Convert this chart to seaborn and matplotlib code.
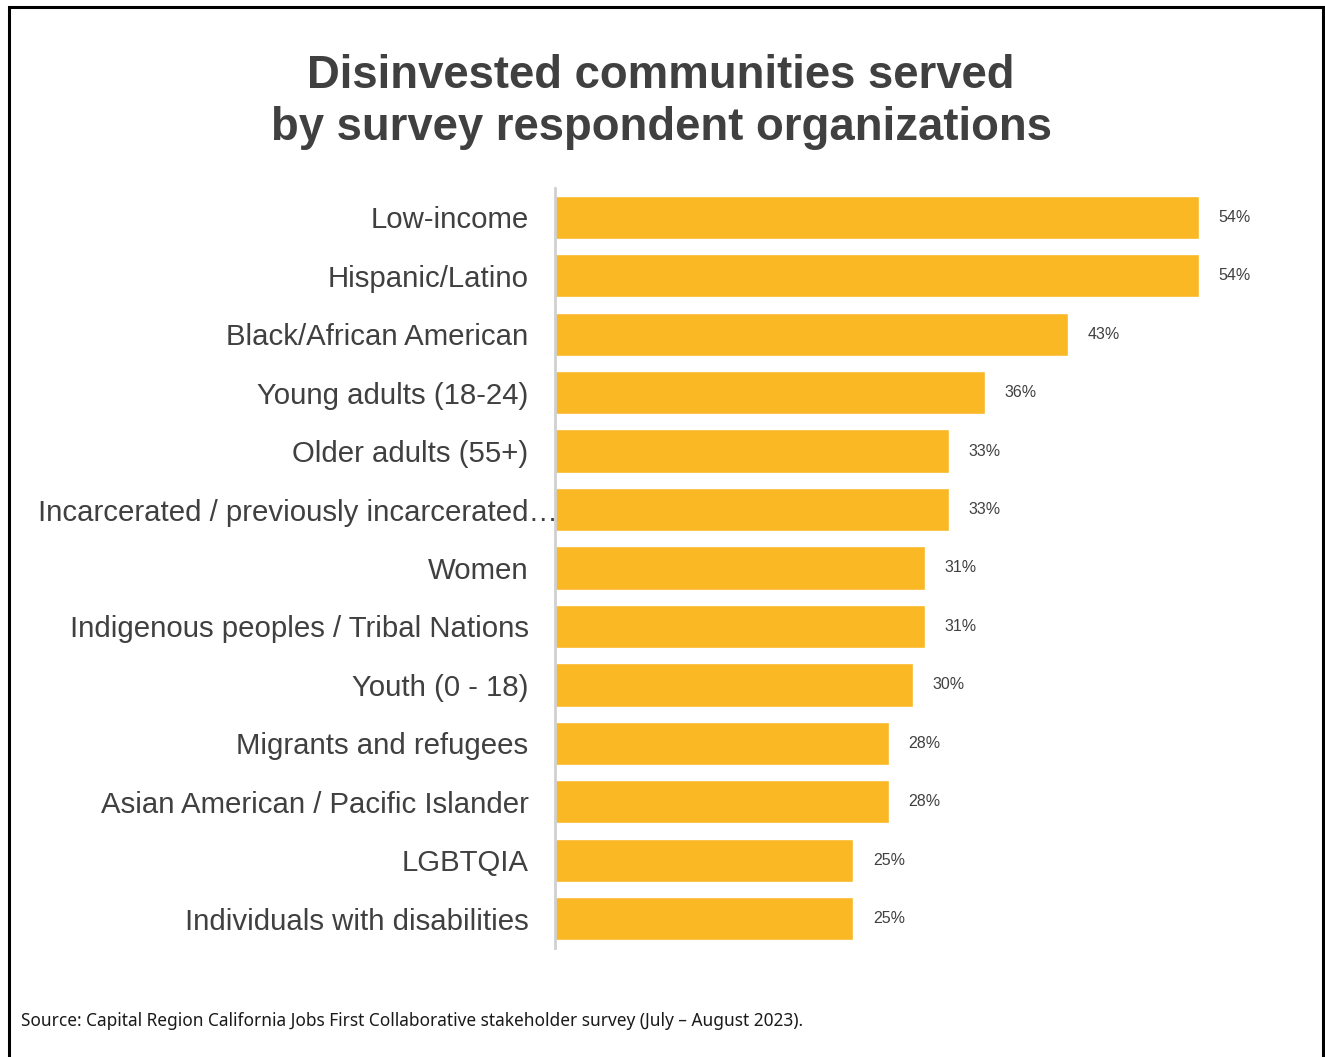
import matplotlib
matplotlib.use("Agg")
import matplotlib.pyplot as plt
from matplotlib.patches import Rectangle
from matplotlib.transforms import ScaledTranslation
import seaborn as sns
import pandas as pd

# Survey results: share of respondent organizations serving each community
communities = [
    "Low-income",
    "Hispanic/Latino",
    "Black/African American",
    "Young adults (18-24)",
    "Older adults (55+)",
    "Incarcerated / previously incarcerated\u2026",
    "Women",
    "Indigenous peoples / Tribal Nations",
    "Youth (0 - 18)",
    "Migrants and refugees",
    "Asian American / Pacific Islander",
    "LGBTQIA",
    "Individuals with disabilities",
]
shares = [54, 54, 43, 36, 33, 33, 31, 31, 30, 28, 28, 25, 25]

title_text = "Disinvested communities served\nby survey respondent organizations"
source_text = ("Source: Capital Region California Jobs First Collaborative "
               "stakeholder survey (July \u2013 August 2023).")

df = pd.DataFrame({"community": communities, "share": shares})

sns.set_theme(style="white")
plt.rcParams["font.family"] = ["Liberation Sans", "DejaVu Sans"]

TEXT = "#404040"
BAR = "#FAB825"

fig = plt.figure(figsize=(13.25, 10.57), dpi=100)
ax = fig.add_axes([555 / 1325, 1 - 948 / 1057, 716 / 1325, (948 - 188) / 1057])

sns.barplot(data=df, x="share", y="community", color=BAR, width=0.74,
            saturation=1, ax=ax)

ax.set_xlim(0, 60)
ax.set_ylim(12.5, -0.5)
ax.set_xlabel("")
ax.set_ylabel("")
ax.set_xticks([])

for side in ("top", "right", "bottom"):
    ax.spines[side].set_visible(False)
ax.spines["left"].set_color("#d0d0d0")
ax.spines["left"].set_linewidth(2)

ax.tick_params(axis="y", length=0, pad=19, labelsize=21.2, labelcolor=TEXT)

# The long label runs on past the others, up to the axis line
long_lbl = ax.get_yticklabels()[5]
long_lbl.set_transform(long_lbl.get_transform()
                       + ScaledTranslation(29 / 100, 0, fig.dpi_scale_trans))

ax.bar_label(ax.containers[0], labels=[f"{v}%" for v in shares],
             padding=14, fontsize=11.5, color=TEXT)

fig.text(0.499, 1 - 102 / 1057, title_text, ha="center", va="center",
         fontsize=32.8, fontweight="bold", color=TEXT, linespacing=1.25)

fig.text(21 / 1325, 1 - 1021 / 1057, source_text, ha="left", va="center",
         fontsize=12.45, color="#1a1a1a", family=["Noto Sans", "DejaVu Sans"])

# Frame around the whole graphic
fig.patches.append(Rectangle((8.5 / 1325, -0.05), (1323 - 8.5) / 1325,
                             1 - 6.5 / 1057 + 0.05, transform=fig.transFigure,
                             fill=False, edgecolor="black", linewidth=2.2))

fig.savefig("out.png", dpi=100, facecolor="white")
